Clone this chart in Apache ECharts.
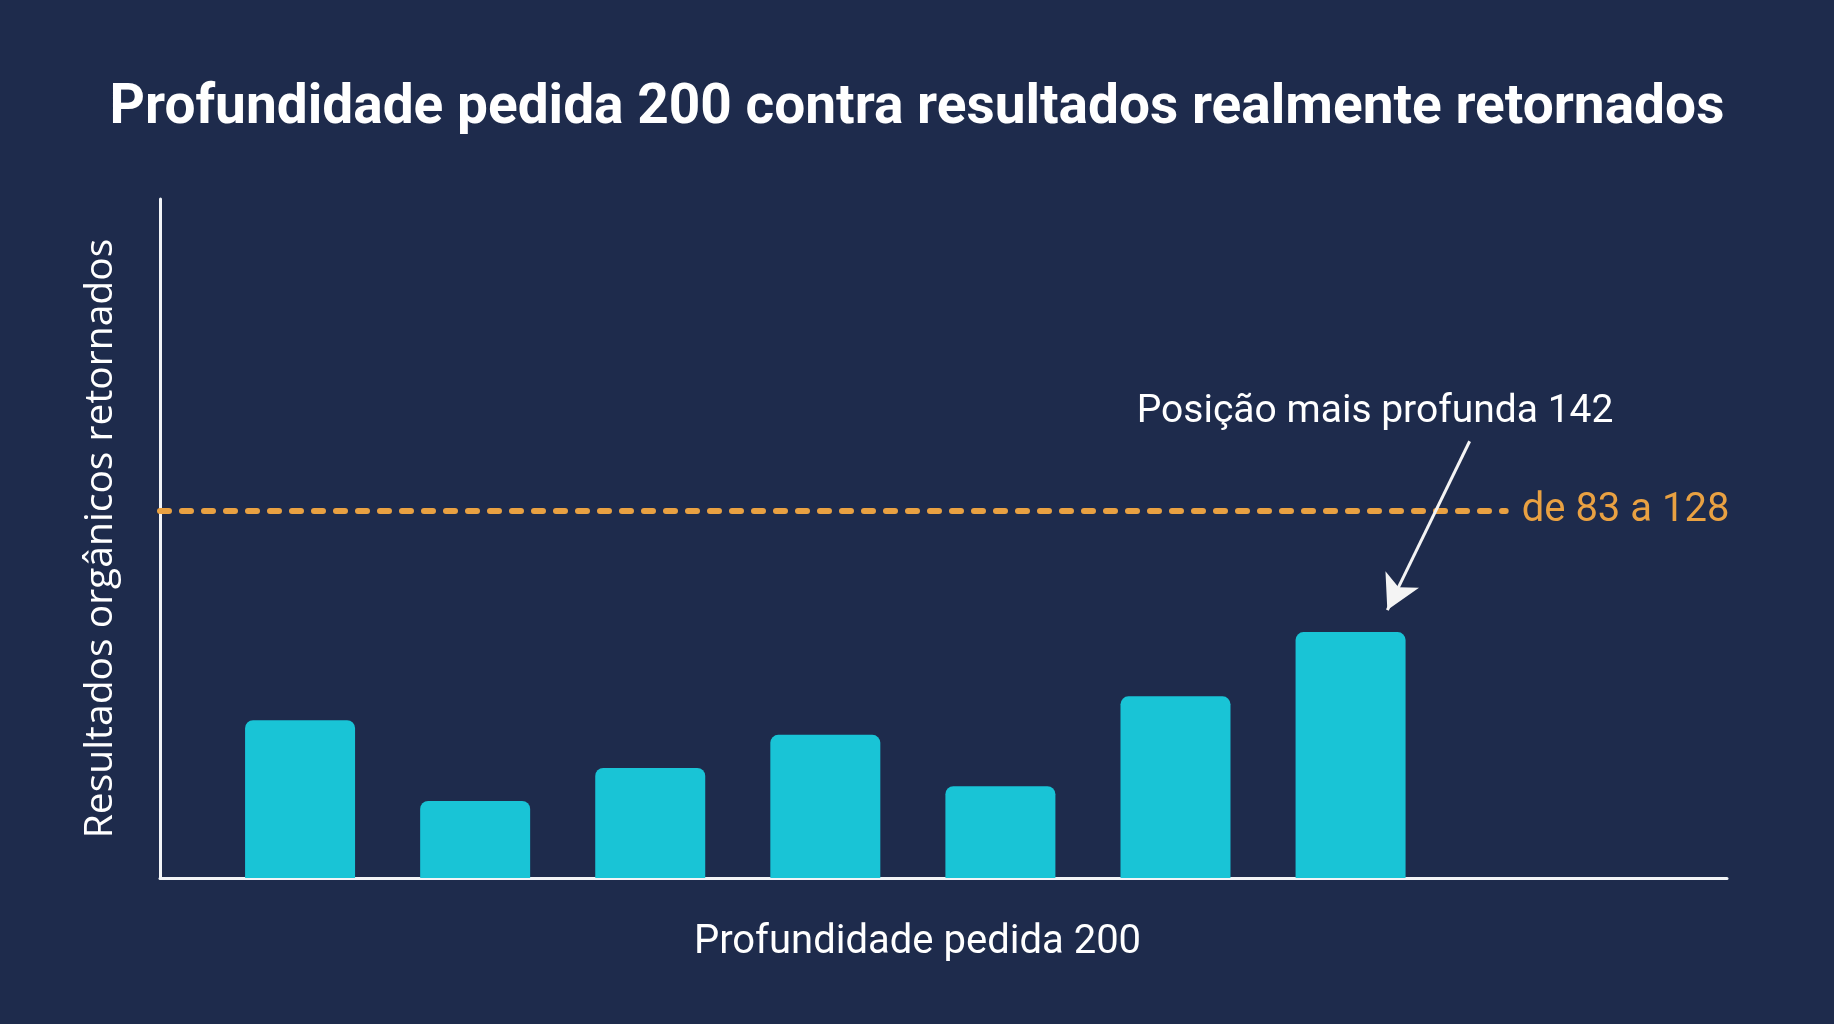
<!DOCTYPE html>
<html>
<head>
<meta charset="utf-8">
<script src="https://cdn.jsdelivr.net/npm/echarts@6/dist/echarts.min.js"></script>
<style>
html,body{margin:0;padding:0;background:#1E2B4C;}
#chart{width:1834px;height:1024px;}
</style>
</head>
<body>
<div id="chart"></div>
<script>
// ---- data ----
const categories = [1, 2, 3, 4, 5, 6, 7];
const returnedResults = [86, 42, 60, 78, 50, 99, 134];
const requestedDepth = 200;
const rangeLabel = 'de 83 a 128';
const deepestLabel = 'Posição mais profunda 142';
const titleText = 'Profundidade pedida 200 contra resultados realmente retornados';
const xAxisTitle = 'Profundidade pedida 200';
const yAxisTitle = 'Resultados orgânicos retornados';

const chart = echarts.init(document.getElementById('chart'));
const white = '#F2F4F7';
const orange = '#E9A142';
const cyan = '#19C4D6';

chart.setOption({
  backgroundColor: '#1E2B4C',
  animation: false,
  title: {
    text: titleText,
    left: 'center',
    top: 77,
    textStyle: { color: '#FFFFFF', fontFamily: 'Roboto', fontWeight: 'bold', fontSize: 55 }
  },
  grid: { left: 160, right: 107, top: 199, bottom: 146 },
  xAxis: {
    type: 'value',
    min: 0.2,
    max: 9.15,
    axisLine: { show: true, lineStyle: { color: white, width: 3 } },
    axisTick: { show: false },
    axisLabel: { show: false },
    splitLine: { show: false },
    name: xAxisTitle,
    nameLocation: 'middle',
    nameGap: 45,
    nameTextStyle: { color: '#FFFFFF', fontFamily: 'Roboto', fontSize: 40, padding: [0, 52, 0, 0] }
  },
  yAxis: {
    type: 'value',
    min: 0,
    max: 370,
    axisLine: { show: true, lineStyle: { color: white, width: 3 } },
    axisTick: { show: false },
    axisLabel: { show: false },
    splitLine: { show: false },
    name: yAxisTitle,
    nameLocation: 'middle',
    nameRotate: 90,
    nameGap: 40,
    nameTextStyle: { color: '#FFFFFF', fontFamily: 'Open Sans', fontSize: 39 }
  },
  series: [{
    type: 'bar',
    data: categories.map((c, i) => [c, returnedResults[i]]),
    barWidth: 110,
    itemStyle: { color: cyan, borderRadius: [8, 8, 0, 0] },
    markLine: {
      silent: true,
      symbol: 'none',
      data: [
        [
          { coord: [0.2, requestedDepth], lineStyle: { color: orange, width: 6, type: [9, 13], cap: 'round' },
            label: { show: true, position: 'end', formatter: rangeLabel, color: orange, fontFamily: 'Roboto', fontSize: 40, distance: 16 } },
          { coord: [7.886, requestedDepth] }
        ],
        [
          { coord: [7.68, 238], symbol: 'none', lineStyle: { color: '#F4F4F4', width: 3, type: 'solid' }, label: { show: false } },
          { coord: [7.21, 146], symbol: 'arrow', symbolSize: [28, 34] }
        ]
      ]
    },
    markPoint: {
      silent: true,
      symbol: 'circle',
      symbolSize: 0,
      data: [{
        coord: [7.14, 254],
        label: { show: true, position: 'inside', formatter: deepestLabel, color: '#FFFFFF', fontFamily: 'Roboto', fontSize: 39 }
      }]
    }
  }]
});
</script>
</body>
</html>
